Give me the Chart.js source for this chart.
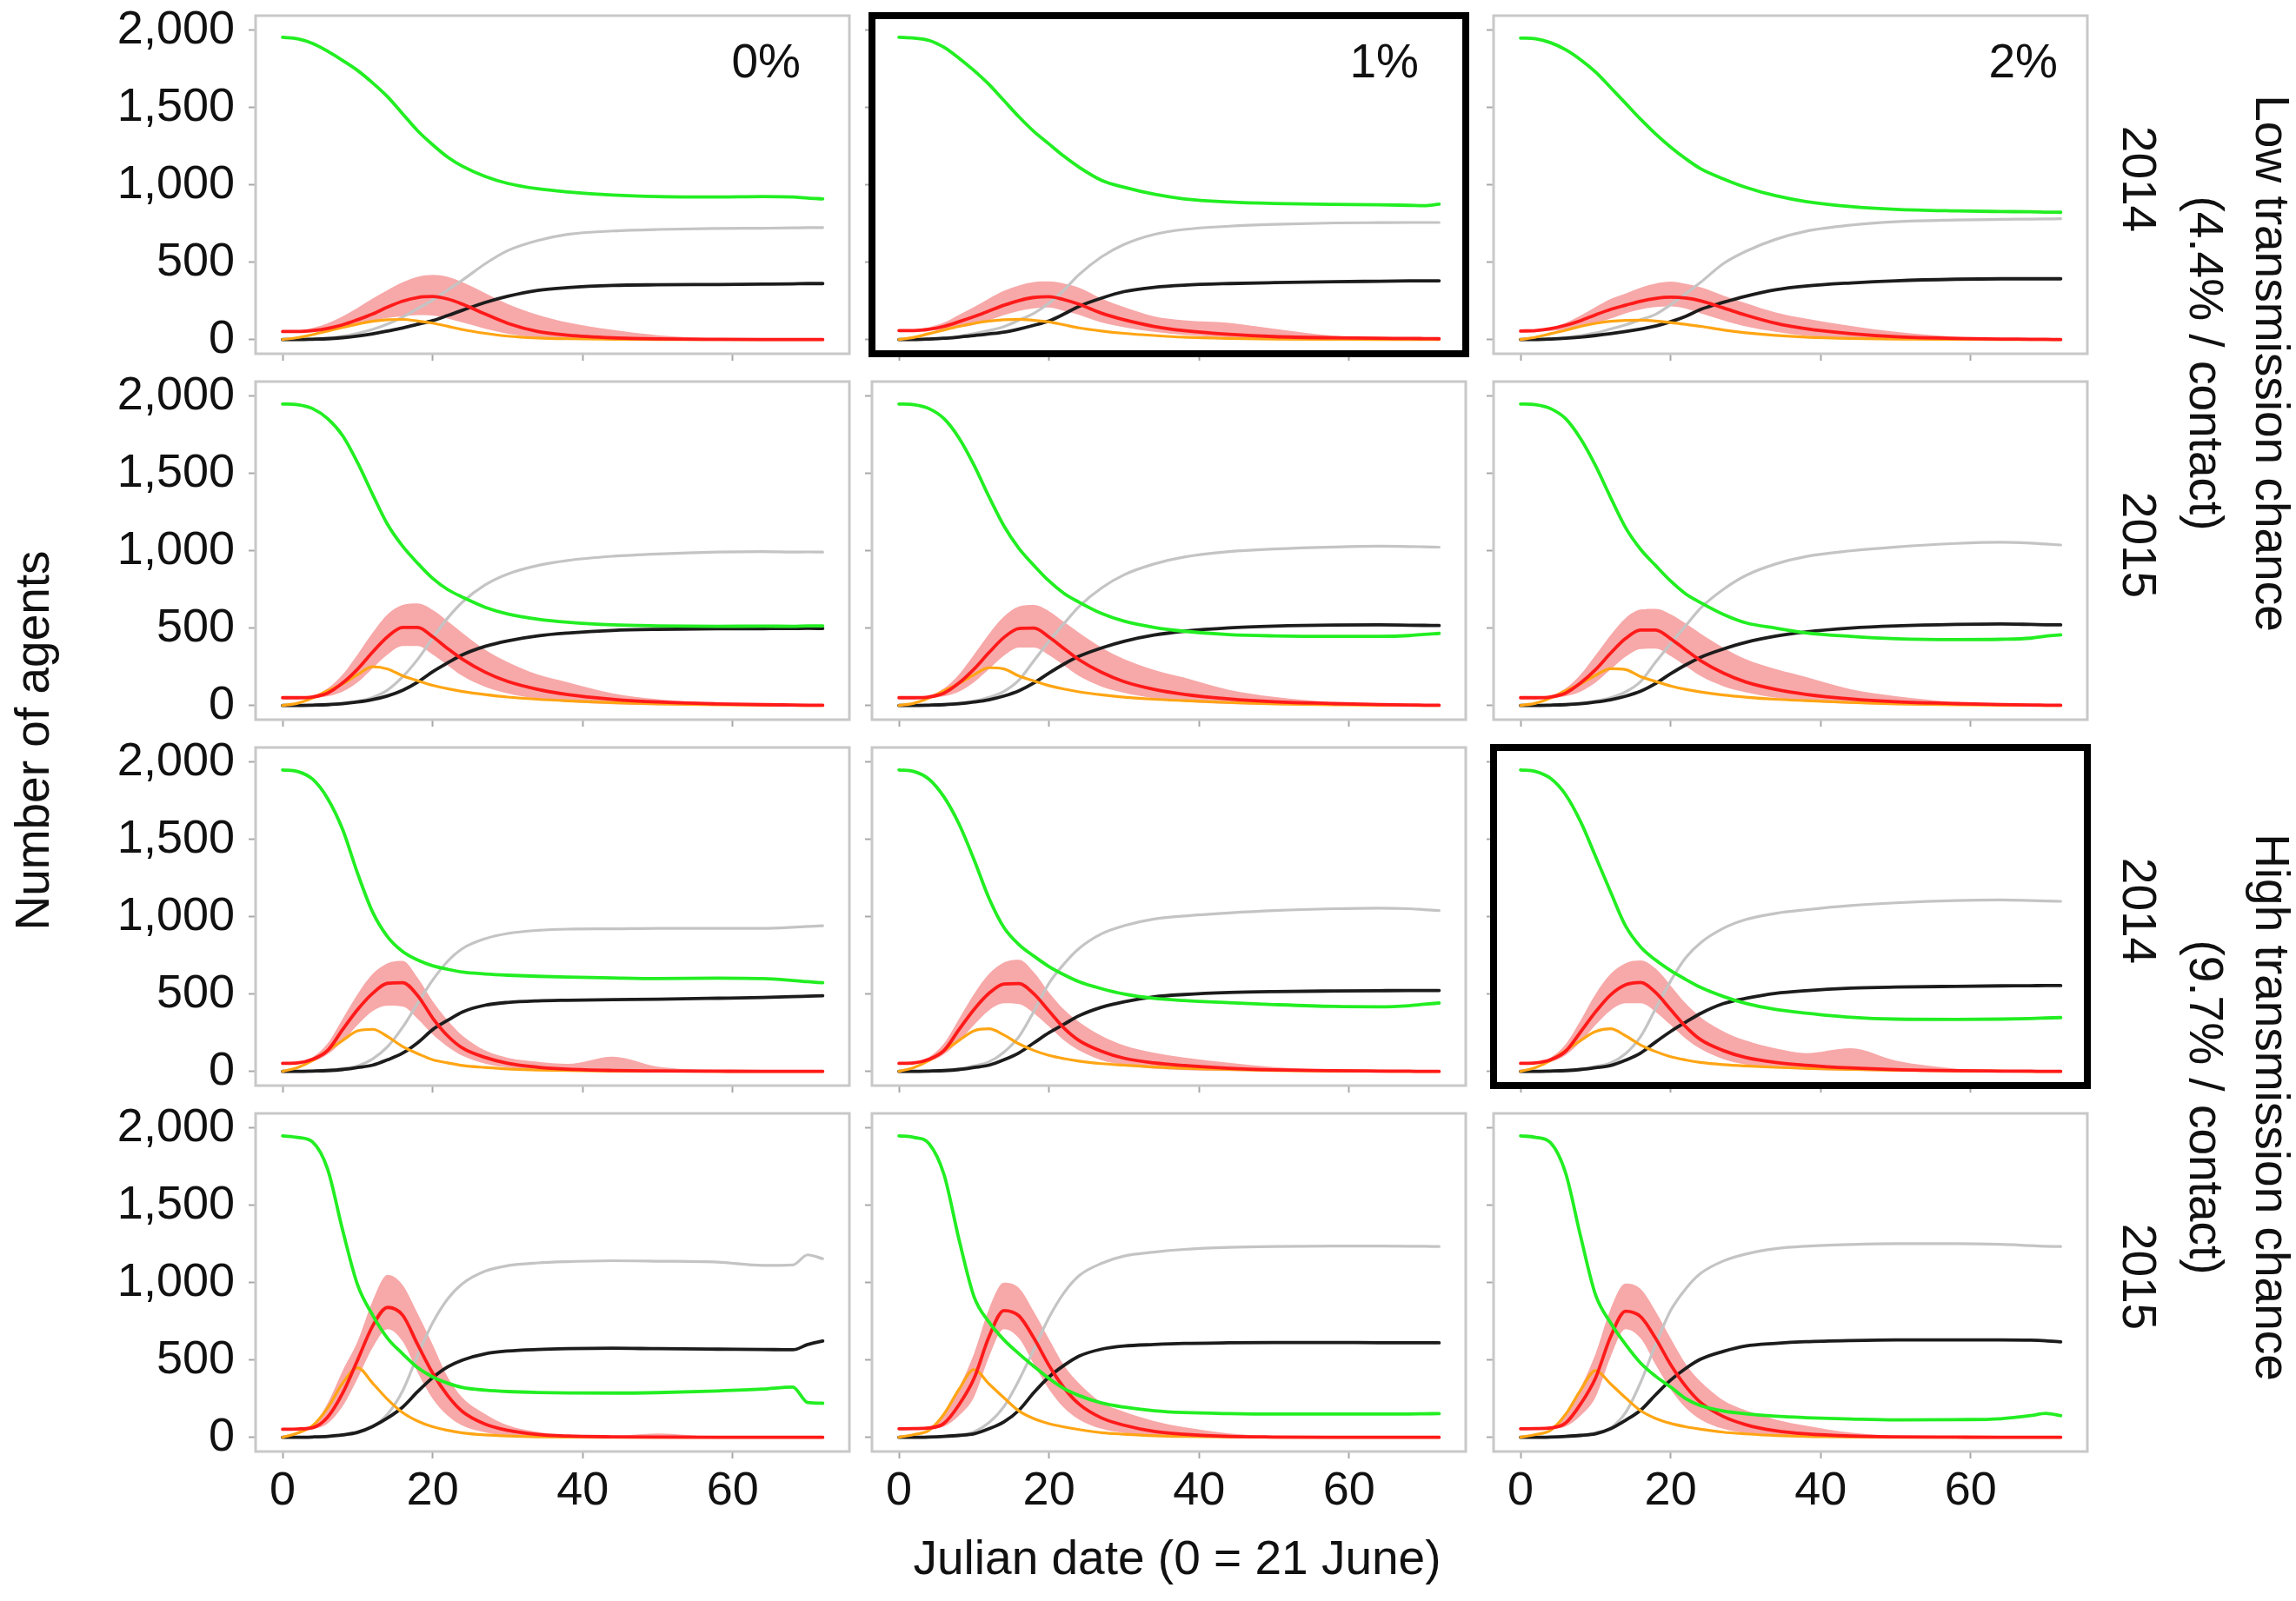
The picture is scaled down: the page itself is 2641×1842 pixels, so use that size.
<!DOCTYPE html>
<html>
<head>
<meta charset="utf-8">
<title>Number of agents by Julian date</title>
<script src="https://cdn.jsdelivr.net/npm/chart.js@4.4.1/dist/chart.umd.min.js"></script>
<style>
    html, body { margin: 0; padding: 0; background: #fff; }
    #page {
        position: relative;
        width: 2641px;
        height: 1842px;
        overflow: hidden;
        font-family: 'Liberation Sans', Arial, sans-serif;
        color: #111;
    }
    #page canvas { position: absolute; }
    .label {
        position: absolute;
        white-space: pre;
        font-size: 55px;
        line-height: 1;
        text-align: center;
    }
    .label.two-line { line-height: 76px; }
</style>
</head>
<body>
<div id="page"></div>
<script>
// ===== Data =====
// panels run row by row: low 2014, low 2015, high 2014, high 2015; columns 0%, 1%, 2%

const DAYS = [0, 2, 4, 6, 8, 10, 12, 14, 16, 18, 20, 22, 24, 27, 30, 34, 38, 44, 50, 58, 64, 68, 70, 72];
const X_TICKS = [0, 20, 40, 60];
const Y_TICKS = [0, 500, 1000, 1500, 2000];
const COLUMN_LABELS = ['0%', '1%', '2%'];
const ROW_LABELS = ['2014', '2015', '2014', '2015'];
const GROUP_LABELS = ['Low transmission chance\n(4.4% / contact)', 'High transmission chance\n(9.7% / contact)'];
const HIGHLIGHTED = [1, 8];

// green line
const susceptible = [
    [1955, 1945, 1915, 1865, 1805, 1740, 1660, 1570, 1460, 1350, 1260, 1180, 1120, 1055, 1010, 975, 955, 935, 925, 922, 925, 922, 915, 910],
    [1955, 1950, 1935, 1890, 1820, 1740, 1650, 1545, 1440, 1345, 1265, 1185, 1115, 1030, 985, 940, 910, 890, 880, 874, 872, 868, 866, 876],
    [1950, 1945, 1920, 1875, 1810, 1730, 1630, 1528, 1425, 1330, 1245, 1170, 1105, 1040, 985, 930, 893, 860, 842, 832, 828, 826, 824, 823],
    [1950, 1945, 1920, 1855, 1745, 1570, 1365, 1170, 1030, 920, 822, 750, 700, 635, 592, 558, 538, 521, 515, 512, 513, 512, 515, 515],
    [1950, 1945, 1920, 1855, 1730, 1555, 1350, 1160, 1015, 905, 805, 725, 668, 595, 545, 505, 480, 458, 450, 447, 447, 452, 460, 466],
    [1950, 1945, 1920, 1855, 1725, 1550, 1345, 1150, 1010, 905, 805, 722, 665, 590, 535, 500, 470, 447, 432, 426, 428, 435, 448, 457],
    [1950, 1940, 1890, 1765, 1565, 1280, 1030, 870, 775, 720, 683, 660, 642, 630, 622, 615, 610, 604, 600, 603, 600, 588, 580, 573],
    [1950, 1940, 1890, 1775, 1600, 1370, 1120, 930, 820, 745, 678, 625, 580, 535, 500, 472, 458, 444, 432, 420, 418, 425, 434, 442],
    [1950, 1940, 1895, 1790, 1615, 1390, 1160, 940, 805, 720, 652, 595, 543, 485, 440, 400, 377, 350, 338, 336, 338, 342, 345, 348],
    [1950, 1940, 1910, 1735, 1340, 985, 790, 640, 540, 450, 390, 350, 322, 305, 296, 290, 287, 286, 289, 300, 312, 325, 225, 220],
    [1950, 1940, 1900, 1700, 1280, 910, 745, 630, 540, 458, 380, 315, 270, 222, 195, 172, 160, 153, 150, 150, 150, 151, 152, 153],
    [1950, 1940, 1905, 1710, 1300, 920, 740, 600, 480, 395, 325, 250, 205, 170, 152, 136, 127, 118, 112, 114, 120, 140, 155, 140]
];

// grey line
const recovered = [
    [0, 0, 3, 10, 22, 40, 65, 100, 145, 200, 255, 320, 385, 490, 575, 640, 680, 702, 712, 718, 720, 722, 724, 724],
    [0, 0, 3, 8, 20, 38, 58, 84, 125, 170, 235, 320, 420, 535, 615, 680, 712, 733, 745, 754, 756, 757, 757, 757],
    [0, 0, 4, 12, 25, 42, 68, 95, 128, 163, 225, 295, 370, 490, 570, 648, 700, 740, 762, 773, 777, 779, 780, 781],
    [0, 0, 2, 6, 14, 28, 52, 100, 185, 298, 435, 565, 670, 780, 850, 905, 938, 965, 980, 992, 995, 992, 993, 992],
    [0, 0, 2, 6, 14, 28, 52, 92, 165, 290, 415, 530, 640, 760, 845, 915, 960, 995, 1012, 1025, 1030, 1028, 1026, 1024],
    [0, 0, 2, 6, 14, 28, 50, 88, 155, 280, 400, 515, 630, 750, 840, 915, 963, 1000, 1025, 1048, 1056, 1050, 1044, 1038],
    [0, 0, 2, 8, 18, 35, 80, 160, 285, 440, 590, 712, 795, 858, 892, 912, 920, 922, 925, 925, 925, 932, 938, 942],
    [0, 0, 2, 6, 16, 35, 62, 125, 225, 390, 570, 695, 795, 890, 942, 985, 1005, 1025, 1040, 1052, 1056, 1052, 1046, 1040],
    [0, 0, 2, 6, 15, 32, 55, 115, 225, 405, 585, 735, 832, 925, 982, 1022, 1045, 1072, 1090, 1105, 1109, 1105, 1102, 1100],
    [0, 0, 2, 6, 14, 28, 70, 150, 300, 530, 740, 895, 995, 1075, 1110, 1128, 1136, 1142, 1139, 1133, 1112, 1115, 1180, 1155],
    [0, 0, 2, 6, 15, 35, 95, 200, 370, 570, 775, 935, 1045, 1125, 1172, 1198, 1215, 1228, 1234, 1237, 1237, 1236, 1235, 1234],
    [0, 0, 2, 6, 14, 30, 60, 160, 355, 600, 820, 960, 1060, 1140, 1185, 1220, 1236, 1247, 1252, 1252, 1248, 1240, 1236, 1234]
];

// black line
const removed = [
    [0, 0, 2, 5, 12, 22, 36, 55, 75, 98, 122, 155, 190, 240, 280, 318, 336, 350, 354, 356, 358, 360, 362, 362],
    [0, 0, 3, 8, 16, 25, 36, 48, 68, 92, 120, 165, 215, 268, 310, 338, 352, 362, 368, 374, 377, 379, 380, 380],
    [0, 0, 3, 8, 16, 26, 38, 52, 68, 87, 115, 150, 195, 240, 280, 322, 346, 366, 380, 390, 393, 393, 393, 393],
    [0, 0, 2, 5, 11, 22, 38, 62, 98, 150, 218, 275, 328, 382, 418, 450, 468, 485, 492, 496, 497, 498, 499, 498],
    [0, 0, 2, 5, 11, 22, 37, 61, 95, 146, 210, 268, 318, 372, 415, 455, 480, 502, 513, 520, 521, 519, 518, 517],
    [0, 0, 2, 5, 11, 22, 37, 60, 92, 142, 205, 262, 312, 365, 408, 448, 475, 500, 514, 524, 527, 524, 522, 521],
    [0, 0, 2, 5, 12, 25, 40, 75, 118, 185, 270, 330, 385, 428, 446, 456, 460, 464, 467, 473, 478, 483, 486, 489],
    [0, 0, 2, 5, 12, 25, 40, 75, 120, 185, 250, 305, 360, 415, 450, 482, 497, 510, 516, 520, 522, 523, 523, 523],
    [0, 0, 2, 5, 12, 24, 38, 72, 118, 190, 258, 318, 375, 438, 472, 505, 522, 538, 545, 550, 553, 554, 555, 555],
    [0, 0, 2, 6, 15, 32, 70, 125, 195, 295, 385, 455, 500, 540, 558, 568, 573, 576, 573, 570, 568, 566, 600, 623],
    [0, 0, 2, 6, 12, 22, 55, 100, 175, 290, 390, 465, 525, 570, 590, 600, 607, 611, 613, 613, 612, 612, 611, 611],
    [0, 0, 2, 6, 12, 22, 55, 110, 175, 275, 370, 445, 505, 555, 590, 607, 618, 626, 630, 630, 630, 628, 624, 617]
];

// red line (mean of runs)
const infectious = [
    [52, 52, 58, 72, 95, 128, 165, 210, 248, 272, 278, 262, 228, 165, 105, 52, 28, 11, 4, 1, 0, 0, 0, 0],
    [58, 58, 66, 85, 115, 148, 185, 222, 252, 272, 277, 258, 228, 170, 128, 85, 58, 34, 19, 11, 8, 7, 6, 5],
    [55, 58, 70, 92, 122, 160, 195, 222, 248, 266, 274, 268, 250, 205, 158, 105, 70, 38, 18, 7, 3, 2, 1, 0],
    [50, 50, 55, 80, 145, 235, 345, 445, 505, 505, 445, 368, 298, 215, 155, 104, 70, 40, 22, 10, 5, 3, 2, 1],
    [50, 50, 55, 80, 145, 235, 342, 440, 498, 500, 442, 368, 296, 214, 154, 104, 72, 42, 24, 12, 6, 3, 2, 1],
    [50, 50, 55, 80, 145, 232, 338, 433, 488, 488, 432, 360, 290, 210, 152, 104, 72, 42, 24, 12, 6, 3, 2, 1],
    [52, 55, 78, 135, 270, 400, 505, 570, 574, 490, 345, 230, 150, 90, 52, 27, 14, 6, 3, 1, 0, 0, 0, 0],
    [52, 55, 78, 135, 270, 400, 505, 565, 568, 500, 390, 280, 200, 130, 85, 55, 38, 20, 10, 4, 2, 1, 0, 0],
    [52, 55, 75, 130, 255, 385, 495, 560, 575, 510, 400, 290, 205, 135, 90, 58, 40, 22, 11, 4, 2, 1, 0, 0],
    [52, 54, 62, 130, 285, 500, 720, 840, 790, 600, 415, 270, 165, 85, 45, 18, 8, 3, 1, 0, 0, 0, 0, 0],
    [55, 56, 60, 90, 210, 380, 650, 820, 785, 640, 465, 320, 215, 125, 78, 38, 20, 6, 2, 0, 0, 0, 0, 0],
    [55, 56, 60, 92, 215, 385, 650, 815, 780, 640, 470, 330, 225, 135, 82, 42, 22, 8, 3, 1, 0, 0, 0, 0]
];

// orange line
const exposed = [
    [0, 12, 32, 55, 78, 100, 118, 128, 130, 120, 106, 86, 64, 40, 22, 10, 5, 2, 0, 0, 0, 0, 0, 0],
    [0, 14, 38, 62, 85, 105, 120, 128, 131, 124, 114, 95, 75, 55, 40, 26, 15, 7, 3, 1, 0, 0, 0, 0],
    [0, 15, 38, 60, 85, 105, 118, 124, 125, 120, 110, 98, 85, 62, 44, 27, 16, 7, 3, 1, 0, 0, 0, 0],
    [0, 14, 48, 95, 140, 200, 250, 236, 192, 160, 130, 108, 90, 70, 54, 40, 30, 18, 10, 4, 2, 1, 0, 0],
    [0, 14, 48, 95, 142, 198, 244, 236, 190, 158, 128, 106, 88, 69, 54, 40, 31, 19, 10, 4, 2, 1, 0, 0],
    [0, 14, 48, 95, 140, 195, 238, 232, 186, 155, 126, 104, 87, 68, 54, 40, 31, 19, 10, 4, 2, 1, 0, 0],
    [0, 25, 70, 135, 200, 262, 272, 225, 160, 115, 75, 55, 38, 25, 15, 9, 5, 2, 1, 0, 0, 0, 0, 0],
    [0, 25, 70, 135, 200, 262, 275, 235, 178, 135, 103, 82, 66, 50, 40, 28, 20, 12, 6, 2, 1, 0, 0, 0],
    [0, 25, 70, 135, 200, 258, 275, 230, 170, 128, 95, 74, 58, 44, 35, 26, 20, 13, 7, 3, 1, 0, 0, 0],
    [0, 28, 75, 190, 350, 450, 350, 245, 160, 105, 68, 45, 28, 15, 8, 3, 1, 0, 0, 0, 0, 0, 0, 0],
    [0, 18, 45, 150, 310, 438, 345, 255, 170, 120, 88, 67, 50, 30, 20, 10, 5, 2, 0, 0, 0, 0, 0, 0],
    [0, 18, 45, 148, 305, 432, 345, 255, 172, 122, 90, 68, 52, 33, 22, 11, 5, 2, 0, 0, 0, 0, 0, 0]
];

// envelope of the individual runs behind the red line
const runsHigh = [
    [55, 58, 75, 105, 150, 205, 265, 320, 370, 405, 418, 405, 370, 300, 230, 160, 110, 62, 28, 8, 2, 0, 0, 0],
    [62, 64, 80, 110, 160, 210, 265, 315, 350, 372, 376, 362, 335, 265, 210, 150, 124, 108, 70, 24, 8, 3, 1, 0],
    [60, 62, 78, 108, 155, 210, 262, 298, 335, 362, 374, 360, 338, 285, 235, 175, 135, 88, 50, 18, 6, 2, 0, 0],
    [55, 56, 65, 110, 200, 330, 470, 590, 650, 660, 618, 545, 468, 360, 280, 200, 150, 78, 40, 15, 5, 2, 0, 0],
    [55, 56, 65, 110, 200, 328, 462, 575, 640, 650, 610, 540, 470, 375, 300, 230, 180, 100, 55, 20, 7, 2, 1, 0],
    [55, 56, 65, 110, 200, 325, 455, 565, 620, 625, 590, 530, 465, 375, 300, 235, 185, 105, 60, 22, 8, 3, 1, 0],
    [55, 60, 92, 180, 340, 500, 630, 700, 715, 605, 455, 330, 230, 135, 88, 62, 48, 95, 30, 8, 2, 0, 0, 0],
    [55, 60, 92, 180, 340, 500, 630, 705, 722, 640, 510, 400, 320, 230, 168, 120, 90, 55, 28, 10, 3, 0, 0, 0],
    [55, 60, 90, 175, 330, 500, 630, 700, 718, 665, 555, 440, 350, 260, 200, 148, 118, 150, 70, 18, 5, 0, 0, 0],
    [55, 58, 80, 220, 430, 620, 880, 1050, 985, 800, 600, 390, 255, 150, 78, 35, 15, 10, 25, 2, 0, 0, 0, 0],
    [58, 60, 68, 150, 320, 540, 830, 1000, 965, 810, 635, 465, 350, 225, 165, 105, 65, 25, 8, 2, 0, 0, 0, 0],
    [58, 60, 68, 150, 320, 540, 830, 995, 960, 815, 640, 475, 360, 240, 175, 115, 75, 30, 10, 3, 0, 0, 0, 0]
];

const runsLow = [
    [50, 50, 52, 58, 72, 95, 120, 140, 150, 158, 156, 135, 110, 70, 38, 14, 5, 1, 0, 0, 0, 0, 0, 0],
    [55, 55, 58, 65, 78, 95, 125, 158, 185, 202, 208, 185, 160, 110, 80, 50, 30, 14, 6, 2, 0, 0, 0, 0],
    [52, 52, 56, 66, 82, 105, 135, 170, 195, 210, 214, 200, 170, 125, 85, 50, 25, 10, 4, 0, 0, 0, 0, 0],
    [48, 48, 50, 60, 90, 150, 240, 330, 385, 385, 330, 260, 190, 120, 78, 42, 22, 8, 2, 0, 0, 0, 0, 0],
    [48, 48, 50, 60, 90, 150, 235, 322, 375, 375, 325, 258, 190, 122, 82, 46, 25, 9, 3, 0, 0, 0, 0, 0],
    [48, 48, 50, 60, 90, 148, 232, 315, 365, 368, 320, 255, 190, 125, 85, 50, 28, 10, 3, 0, 0, 0, 0, 0],
    [50, 50, 62, 110, 195, 300, 390, 425, 420, 340, 240, 160, 100, 50, 25, 10, 4, 1, 0, 0, 0, 0, 0, 0],
    [50, 50, 62, 110, 195, 300, 395, 440, 435, 375, 290, 200, 135, 72, 40, 18, 8, 2, 0, 0, 0, 0, 0, 0],
    [50, 50, 60, 105, 190, 300, 395, 440, 440, 385, 300, 212, 145, 80, 45, 22, 10, 3, 0, 0, 0, 0, 0, 0],
    [50, 50, 55, 90, 200, 380, 580, 700, 620, 420, 250, 140, 75, 32, 12, 3, 0, 0, 0, 0, 0, 0, 0, 0],
    [52, 52, 55, 70, 140, 260, 520, 700, 640, 470, 310, 190, 115, 55, 28, 10, 3, 0, 0, 0, 0, 0, 0, 0],
    [52, 52, 55, 70, 140, 260, 520, 700, 640, 470, 310, 190, 115, 55, 28, 10, 3, 0, 0, 0, 0, 0, 0, 0]
];

// ===== Layout (page pixels) =====
const COL_LEFTS = [294, 1003, 1718];
const ROW_TOPS = [18, 439, 860, 1281];
const BOX_W = 683;
const BOX_H = 389;
const PAD_TOP = 40;
const PAD_RIGHT = 12;
const X_MIN = -3.6, X_MAX = 75.55;
const Y_MIN = -92, Y_MAX = 2095;

const FONT = "'Liberation Sans', Arial, sans-serif";
Chart.defaults.font.family = FONT;
Chart.defaults.color = '#111';

const page = document.getElementById('page');

// Grey frame round each plot, thick black frame on the highlighted ones
const panelFrame = {
    id: 'panelFrame',
    beforeDatasetsDraw(chart) {
        const { ctx, chartArea: a } = chart;
        ctx.save();
        ctx.strokeStyle = '#c8c8c8';
        ctx.lineWidth = 3;
        ctx.strokeRect(a.left, a.top, a.right - a.left, a.bottom - a.top);
        ctx.restore();
    },
    afterDraw(chart, args, opts) {
        if (!opts.highlight) return;
        const { ctx, chartArea: a } = chart;
        ctx.save();
        ctx.strokeStyle = '#000';
        ctx.lineWidth = 8;
        ctx.strokeRect(a.left, a.top, a.right - a.left, a.bottom - a.top);
        ctx.restore();
    }
};

function points(values) {
    return DAYS.map((d, i) => ({ x: d, y: values[i] }));
}

function lineSet(values, color, width, order) {
    return {
        data: points(values),
        borderColor: color,
        borderWidth: width,
        fill: false,
        order: order
    };
}

// keep every plot box the same size: labels may hang over the edges
function noOverhang(axis) {
    axis.paddingLeft = 0;
    axis.paddingRight = 0;
    axis.paddingTop = 0;
    axis.paddingBottom = 0;
}

function buildPanel(index) {
    const row = Math.floor(index / 3);
    const col = index % 3;
    const axisW = col === 0 ? 200 : 20;
    const axisH = row === 3 ? 110 : 20;

    const canvas = document.createElement('canvas');
    const w = axisW + BOX_W + PAD_RIGHT;
    const h = PAD_TOP + BOX_H + axisH;
    canvas.width = w;
    canvas.height = h;
    canvas.style.width = w + 'px';
    canvas.style.height = h + 'px';
    canvas.style.left = (COL_LEFTS[col] - axisW) + 'px';
    canvas.style.top = (ROW_TOPS[row] - PAD_TOP) + 'px';
    page.appendChild(canvas);

    const tickGrid = {
        drawOnChartArea: false,
        drawTicks: true,
        tickLength: 8,
        tickColor: '#a8a8a8',
        tickWidth: 2
    };

    return new Chart(canvas, {
        type: 'line',
        data: {
            datasets: [
                {
                    data: points(runsHigh[index]),
                    borderWidth: 0,
                    borderColor: 'rgba(0,0,0,0)',
                    backgroundColor: '#f7a8a8',
                    fill: { target: '+1' },
                    order: 7
                },
                {
                    data: points(runsLow[index]),
                    borderWidth: 0,
                    borderColor: 'rgba(0,0,0,0)',
                    fill: false,
                    order: 6
                },
                lineSet(recovered[index], '#c4c4c4', 3.2, 5),
                lineSet(removed[index], '#1c1c1c', 3.8, 4),
                lineSet(exposed[index], '#ffa514', 3.2, 3),
                lineSet(infectious[index], '#ff1a1a', 3.8, 2),
                lineSet(susceptible[index], '#22ee22', 3.8, 1)
            ]
        },
        options: {
            responsive: false,
            animation: false,
            devicePixelRatio: 1,
            layout: { padding: { top: PAD_TOP, right: PAD_RIGHT, left: 0, bottom: 0 } },
            elements: {
                point: { radius: 0 },
                line: { cubicInterpolationMode: 'monotone', borderCapStyle: 'round', borderJoinStyle: 'round' }
            },
            plugins: {
                legend: { display: false },
                tooltip: { enabled: false },
                panelFrame: { highlight: HIGHLIGHTED.includes(index) }
            },
            scales: {
                x: {
                    type: 'linear',
                    min: X_MIN,
                    max: X_MAX,
                    afterBuildTicks: (axis) => { axis.ticks = X_TICKS.map(v => ({ value: v })); },
                    afterFit: (axis) => { axis.height = axisH; noOverhang(axis); },
                    grid: tickGrid,
                    border: { display: false },
                    ticks: {
                        display: row === 3,
                        font: { size: 54 },
                        color: '#111',
                        padding: 6,
                        maxRotation: 0,
                        callback: (v) => String(v)
                    }
                },
                y: {
                    type: 'linear',
                    min: Y_MIN,
                    max: Y_MAX,
                    afterBuildTicks: (axis) => { axis.ticks = Y_TICKS.map(v => ({ value: v })); },
                    afterFit: (axis) => { axis.width = axisW; noOverhang(axis); },
                    grid: tickGrid,
                    border: { display: false },
                    ticks: {
                        display: col === 0,
                        font: { size: 54 },
                        color: '#111',
                        padding: 16,
                        callback: (v) => v.toLocaleString('en-US')
                    }
                }
            }
        },
        plugins: [panelFrame]
    });
}

function placeText(text, x, y, transform, extraClass) {
    const el = document.createElement('div');
    el.className = 'label' + (extraClass ? ' ' + extraClass : '');
    el.textContent = text;
    el.style.left = x + 'px';
    el.style.top = y + 'px';
    el.style.transform = transform;
    page.appendChild(el);
    return el;
}

// Panels
const charts = [];
for (let i = 0; i < 12; i++) {
    charts.push(buildPanel(i));
}

// Column labels inside the top row
const pctRight = [921, 1632, 2367];
COLUMN_LABELS.forEach((t, c) => {
    placeText(t, pctRight[c], ROW_TOPS[0] + 52, 'translate(-100%, -50%)');
});

// Year labels on the right of each row
ROW_LABELS.forEach((t, r) => {
    placeText(t, 2460, ROW_TOPS[r] + 188, 'translate(-50%, -50%) rotate(90deg)');
});

// Transmission group labels
placeText(GROUP_LABELS[0], 2576, 418, 'translate(-50%, -50%) rotate(90deg)', 'two-line');
placeText(GROUP_LABELS[1], 2576, 1274, 'translate(-50%, -50%) rotate(90deg)', 'two-line');

// Axis titles
placeText('Number of agents', 37, 852, 'translate(-50%, -50%) rotate(-90deg)');
placeText('Julian date (0 = 21 June)', 1354, 1792, 'translate(-50%, -50%)');

console.log('✓ Panels drawn:', charts.length);
</script>
</body>
</html>
